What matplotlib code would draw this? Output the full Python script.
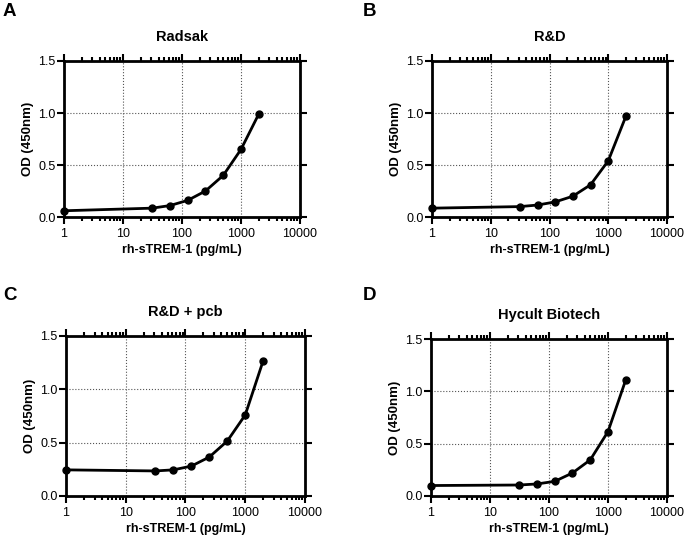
import numpy as np
import matplotlib
matplotlib.use("Agg")
import matplotlib.pyplot as plt
from matplotlib.ticker import LogLocator, FixedLocator, NullFormatter

plt.rcParams['font.family'] = ['Liberation Sans', 'DejaVu Sans']

conc = [1, 31.25, 62.5, 125, 250, 500, 1000, 2000]
od_radsak = [0.06, 0.085, 0.11, 0.16, 0.25, 0.40, 0.65, 0.99]
od_rnd = [0.085, 0.10, 0.115, 0.145, 0.20, 0.31, 0.54, 0.97]
od_rnd_pcb = [0.245, 0.235, 0.245, 0.28, 0.365, 0.515, 0.76, 1.27]
od_hycult = [0.10, 0.105, 0.115, 0.14, 0.22, 0.345, 0.615, 1.11]

titles = ["Radsak", "R&D", "R&D + pcb", "Hycult Biotech"]
letters = ["A", "B", "C", "D"]
series = [od_radsak, od_rnd, od_rnd_pcb, od_hycult]

W, H = 685, 537
# axes boxes in pixels: left, right, top, bottom
boxes = [(64, 300, 61, 217), (432, 667, 61, 217),
         (66, 305, 336, 496), (431, 667, 339, 496)]
title_y = [37, 37, 312, 315]
letter_pos = [(3, 12), (363, 12), (3, 295), (363, 296)]

fig = plt.figure(figsize=(W / 100, H / 100), dpi=100)

for i in range(4):
    l, r, t, b = boxes[i]
    ax = fig.add_axes([l / W, 1 - b / H, (r - l) / W, (b - t) / H])
    ax.plot(conc, series[i], color="black", lw=2, marker="o", ms=5, zorder=3,
            clip_on=False)
    ax.set_xscale("log")
    ax.set_xlim(1, 10000)
    ax.set_ylim(0, 1.5)
    ax.xaxis.set_major_locator(FixedLocator([1, 10, 100, 1000, 10000]))
    ax.set_xticklabels(["1", "10", "100", "1000", "10000"])
    ax.xaxis.set_minor_locator(LogLocator(base=10, subs=np.arange(2, 10)))
    ax.xaxis.set_minor_formatter(NullFormatter())
    ax.set_yticks([0.0, 0.5, 1.0, 1.5])
    ax.set_yticklabels(["0.0", "0.5", "1.0", "1.5"])
    ax.tick_params(axis="x", which="major", direction="out", length=5, width=1.5,
                   top=True, labelsize=9, pad=3)
    ax.tick_params(axis="x", which="minor", direction="out", length=3, width=1.5,
                   top=True)
    ax.tick_params(axis="y", which="major", direction="out", length=5, width=1.5,
                   right=True, labelsize=9, pad=1)
    for s in ax.spines.values():
        s.set_linewidth(2)
    ax.grid(True, which="major", color="#555555", linestyle=":", lw=0.8)
    ax.set_xlabel("rh-sTREM-1 (pg/mL)", fontsize=9, fontweight="bold", labelpad=3)
    ax.set_ylabel("OD (450nm)", fontsize=9.5, fontweight="bold", labelpad=3)
    cx = (l + r) / 2
    fig.text(cx / W, 1 - title_y[i] / H, titles[i], ha="center", va="center",
             fontsize=10.5, fontweight="bold")
    lx, ly = letter_pos[i]
    fig.text(lx / W, 1 - ly / H, letters[i], ha="left", va="center",
             fontsize=13.5, fontweight="bold")

fig.savefig("out.png", dpi=100)
